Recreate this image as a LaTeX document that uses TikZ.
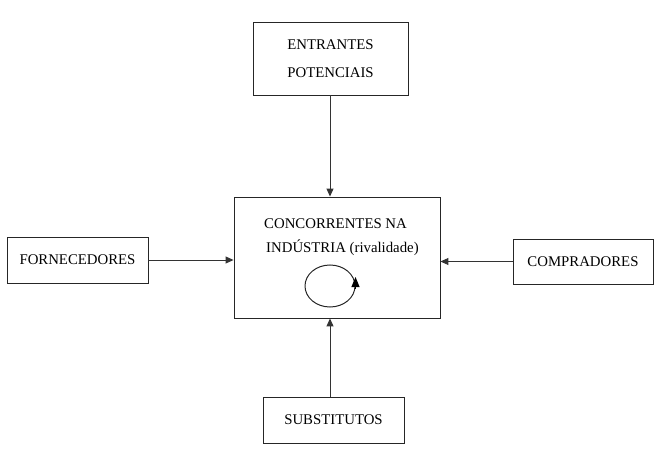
\documentclass[tikz,border=0pt]{standalone}
\usepackage{fontspec}
\setmainfont{Liberation Serif}
\usetikzlibrary{arrows.meta,shapes.geometric}
\begin{document}
\begin{tikzpicture}[x=1pt,y=-1pt,
  box/.style={draw=black!85,line width=0.9pt,inner sep=0pt,minimum width=#1},
  lbl/.style={font=\rmfamily\fontsize{14.8}{28}\selectfont,inner sep=0pt},
  arr/.style={draw=black!80,line width=1pt,-{Triangle[length=8pt,width=7pt]}}]
\useasboundingbox (0,0) rectangle (658,457);
\node[box=155pt,minimum height=73pt,lbl,align=center] (top) at (330.5,58.5) {ENTRANTES\\POTENCIAIS};
\node[box=141pt,minimum height=46pt,lbl] (left) at (77.5,260) {FORNECEDORES};
\node[box=140pt,minimum height=45pt,lbl] (right) at (583,261.5) {COMPRADORES};
\node[box=141pt,minimum height=46pt,lbl] (bottom) at (333.5,420) {SUBSTITUTOS};
\node[box=206pt,minimum height=121pt] (center) at (337,257.5) {};
\node[lbl,anchor=base west] (t1) at (264,228) {CONCORRENTES NA};
\node[lbl,anchor=base west] (t2) at (266,252) {INDÚSTRIA (rivalidade)};
\node[draw=black!85,line width=1pt,ellipse,minimum width=50pt,minimum height=42pt,inner sep=0pt] (loop) at (330,286) {};
\coordinate (lp) at (loop.east);
\draw[line width=1pt,-{Triangle[length=10pt,width=8pt]}] ([yshift=-3pt]lp) -- ([yshift=9pt]lp);
\draw[arr] (top.south -| 330,0) -- (center.north -| 330,0);
\draw[arr] (bottom.north -| 330,0) -- (center.south -| 330,0);
\draw[arr] (left.east) -- (left.east -| center.west);
\draw[arr] (right.west) -- (right.west -| center.east);
\end{tikzpicture}
\end{document}
